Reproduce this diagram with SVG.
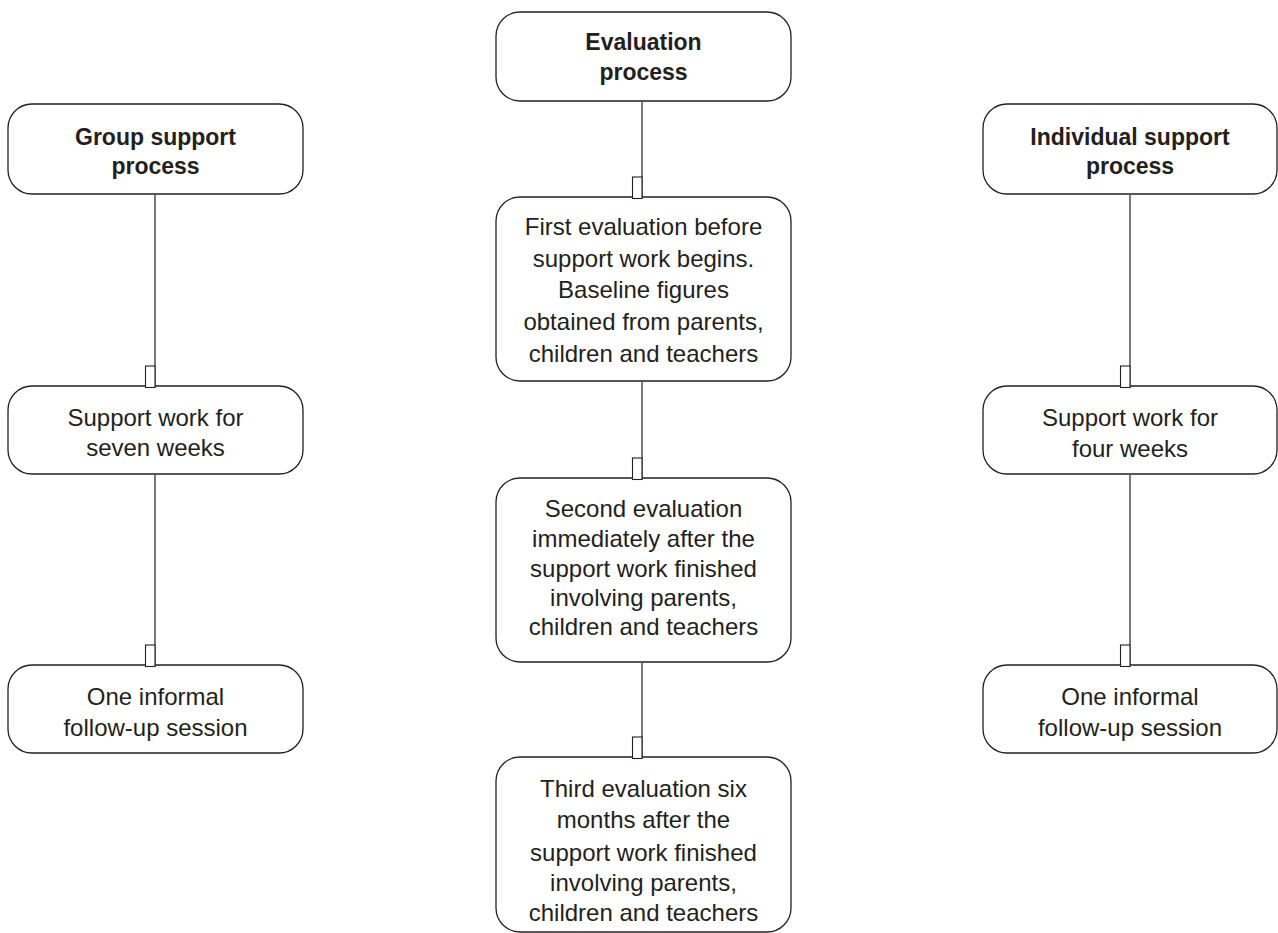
<svg xmlns="http://www.w3.org/2000/svg" width="1278" height="933" viewBox="0 0 1278 933">
<style>
.box{fill:#fff;stroke:#231f20;stroke-width:1.3}
.t{font-family:"Liberation Sans",Arial,sans-serif;font-size:24px;fill:#231f20;text-anchor:middle}
.h{font-family:"Liberation Sans",Arial,sans-serif;font-size:23px;font-weight:bold;fill:#231f20;text-anchor:middle}
.c{stroke:#231f20;stroke-width:1.2;fill:none;marker-end:url(#tofu)}
</style>
<defs>
<marker id="tofu" markerUnits="userSpaceOnUse" viewBox="0 0 12 24" markerWidth="12" markerHeight="24" refX="10.5" refY="22.5" orient="0" overflow="visible">
<rect x="1" y="1" width="9.5" height="21.5" fill="#fff" stroke="#231f20" stroke-width="1.1"/>
</marker>
</defs>
<rect width="1278" height="933" fill="#fff"/>
<g id="group-support">
<rect class="box" x="8" y="104" width="295" height="90" rx="24"/>
<text class="h" x="155.5" y="145">Group support</text>
<text class="h" x="155.5" y="174">process</text>
</g>
<g id="group-work">
<rect class="box" x="8" y="386" width="295" height="88" rx="24"/>
<text class="t" x="155.5" y="426">Support work for</text>
<text class="t" x="155.5" y="456">seven weeks</text>
</g>
<g id="group-followup">
<rect class="box" x="8" y="665" width="295" height="88" rx="24"/>
<text class="t" x="155.5" y="705">One informal</text>
<text class="t" x="155.5" y="736">follow-up session</text>
</g>
<g id="evaluation">
<rect class="box" x="496" y="12" width="295" height="89" rx="24"/>
<text class="h" x="643.5" y="50">Evaluation</text>
<text class="h" x="643.5" y="80">process</text>
</g>
<g id="eval-first">
<rect class="box" x="496" y="197" width="295" height="184" rx="24"/>
<text class="t" x="643.5" y="235">First evaluation before</text>
<text class="t" x="643.5" y="267">support work begins.</text>
<text class="t" x="643.5" y="298">Baseline figures</text>
<text class="t" x="643.5" y="330">obtained from parents,</text>
<text class="t" x="643.5" y="362">children and teachers</text>
</g>
<g id="eval-second">
<rect class="box" x="496" y="478" width="295" height="184" rx="24"/>
<text class="t" x="643.5" y="517">Second evaluation</text>
<text class="t" x="643.5" y="547">immediately after the</text>
<text class="t" x="643.5" y="577">support work finished</text>
<text class="t" x="643.5" y="606">involving parents,</text>
<text class="t" x="643.5" y="635">children and teachers</text>
</g>
<g id="eval-third">
<rect class="box" x="496" y="757" width="295" height="175" rx="24"/>
<text class="t" x="643.5" y="797">Third evaluation six</text>
<text class="t" x="643.5" y="828">months after the</text>
<text class="t" x="643.5" y="861">support work finished</text>
<text class="t" x="643.5" y="891">involving parents,</text>
<text class="t" x="643.5" y="921">children and teachers</text>
</g>
<g id="individual-support">
<rect class="box" x="983" y="104" width="294" height="90" rx="24"/>
<text class="h" x="1130" y="145">Individual support</text>
<text class="h" x="1130" y="174">process</text>
</g>
<g id="individual-work">
<rect class="box" x="983" y="386" width="294" height="88" rx="24"/>
<text class="t" x="1130" y="426">Support work for</text>
<text class="t" x="1130" y="457">four weeks</text>
</g>
<g id="individual-followup">
<rect class="box" x="983" y="665" width="294" height="88" rx="24"/>
<text class="t" x="1130" y="705">One informal</text>
<text class="t" x="1130" y="736">follow-up session</text>
</g>
<g id="connectors">
<path class="c" d="M155 194.7V387.5"/>
<path class="c" d="M155 474.7V666.5"/>
<path class="c" d="M642 101.7V198.5"/>
<path class="c" d="M642 381.7V479.5"/>
<path class="c" d="M642 662.7V758.5"/>
<path class="c" d="M1130 194.7V387.5"/>
<path class="c" d="M1130 474.7V666.5"/>
</g>
</svg>
